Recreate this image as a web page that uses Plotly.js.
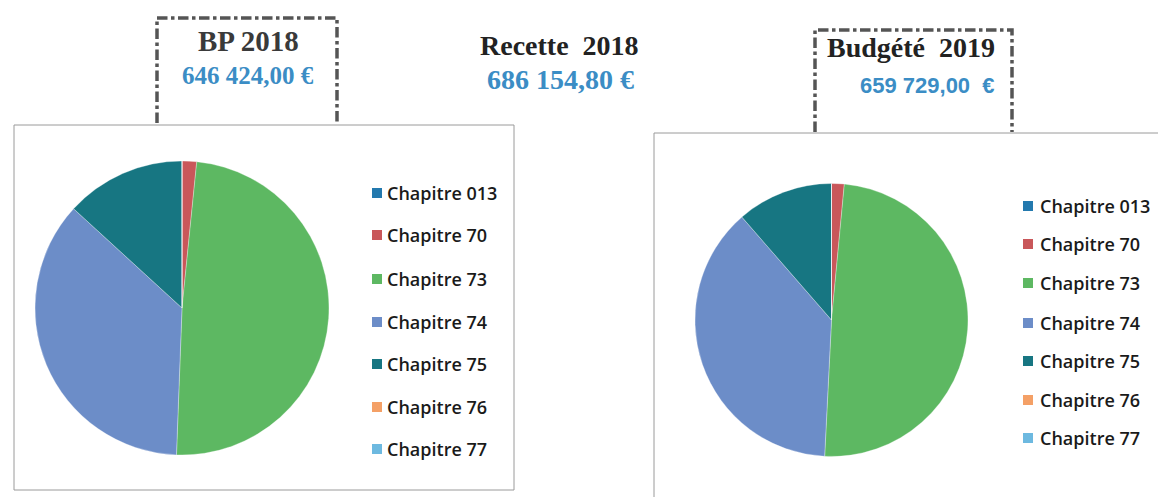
<!DOCTYPE html>
<html>
<head>
<meta charset="utf-8">
<script src="https://cdn.plot.ly/plotly-3.0.1.min.js"></script>
<style>html,body{margin:0;padding:0;background:#fff;}#chart{width:1158px;height:497px;}</style>
</head>
<body>
<div id="chart"></div>
<script>
// ---- data ----
const categories = ["Chapitre 013", "Chapitre 70", "Chapitre 73", "Chapitre 74", "Chapitre 75", "Chapitre 76", "Chapitre 77"];
const bp2018Share = [0, 1.6, 49.0, 36.2, 13.2, 0, 0];
const budget2019Share = [0, 1.5, 49.3, 37.8, 11.4, 0, 0];
const colors = ["#2379AE", "#C9575A", "#5DB862", "#6C8DC8", "#177682", "#F4A066", "#6DB9E0"];
const headTitles = ["BP 2018", "Recette  2018", "Budgété  2019"];
const headAmounts = ["646 424,00 €", "686 154,80 €", "659 729,00  €"];

// ---- layout helpers (pixel -> paper) ----
const W = 1158, H = 497;
const px = x => x / W;
const py = y => 1 - y / H;
const keepSpaces = s => s.replace(/  /g, " &nbsp;");

const pieBase = {
  type: "pie", sort: false, direction: "clockwise", rotation: 0,
  textinfo: "none", hoverinfo: "label+percent", showlegend: false,
  marker: { colors: colors, line: { color: "rgba(255,255,255,0.6)", width: 0.5 } }
};

const traces = [
  Object.assign({}, pieBase, {
    labels: categories, values: bp2018Share, name: "BP 2018",
    domain: { x: [px(35), px(329)], y: [py(455), py(161)] }
  }),
  Object.assign({}, pieBase, {
    labels: categories, values: budget2019Share, name: "Budgété 2019",
    domain: { x: [px(695), px(968)], y: [py(456.5), py(183.5)] }
  })
];

const shapes = [];
const annotations = [];

// chart frames
shapes.push({ type: "rect", xref: "paper", yref: "paper", x0: px(14), x1: px(514), y0: py(490), y1: py(125),
  line: { color: "#9a9a9a", width: 1 } });
shapes.push({ type: "rect", xref: "paper", yref: "paper", x0: px(654), x1: px(1170), y0: py(505), y1: py(133),
  line: { color: "#9a9a9a", width: 1 } });

// dashed header boxes (top + sides)
function dashBox(x0, x1, yTop, yBot) {
  shapes.push({ type: "path", xref: "paper", yref: "paper",
    path: `M ${px(x0)} ${py(yBot)} L ${px(x0)} ${py(yTop)} L ${px(x1)} ${py(yTop)} L ${px(x1)} ${py(yBot)}`,
    line: { color: "#555", width: 3.5, dash: "dashdot" } });
}
dashBox(157, 337, 18, 123);
dashBox(815, 1012, 30, 132);

// header texts
const serifBold = "Liberation Serif, Times New Roman, serif";
const head = [
  { x: 248, y: 41, t: headTitles[0], c: "#3a3a3a", f: serifBold, s: 29 },
  { x: 248, y: 75, t: headAmounts[0], c: "#3B8DC5", f: serifBold, s: 25 },
  { x: 559, y: 45, t: headTitles[1], c: "#222", f: serifBold, s: 28 },
  { x: 560, y: 79, t: headAmounts[1], c: "#3B8DC5", f: serifBold, s: 28 },
  { x: 911, y: 48, t: headTitles[2], c: "#222", f: serifBold, s: 28 },
  { x: 927, y: 85, t: headAmounts[2], c: "#3B8DC5", f: "Liberation Sans, Arial, sans-serif", s: 22 }
];
head.forEach(h => annotations.push({ xref: "paper", yref: "paper", x: px(h.x), y: py(h.y),
  xanchor: "center", yanchor: "middle", showarrow: false,
  text: "<b>" + keepSpaces(h.t) + "</b>", font: { family: h.f, size: h.s, color: h.c } }));

// legends (built from categories and colours)
function legend(sqX, textX, ys) {
  categories.forEach((cat, i) => {
    const y = ys[i];
    shapes.push({ type: "rect", xref: "paper", yref: "paper",
      x0: px(sqX), x1: px(sqX + 10), y0: py(y + 5), y1: py(y - 5),
      fillcolor: colors[i], line: { width: 0 } });
    annotations.push({ xref: "paper", yref: "paper", x: px(textX), y: py(y),
      xanchor: "left", yanchor: "middle", showarrow: false, text: cat,
      font: { family: "Open Sans, sans-serif", size: 18, weight: 600, color: "#1a1a1a" } });
  });
}
legend(372, 385, [193, 235, 279, 322, 364, 407, 449]);
legend(1023, 1038, [206, 244, 283, 323, 361, 400, 438]);

const layout = {
  width: W, height: H, margin: { l: 0, r: 0, t: 0, b: 0 },
  paper_bgcolor: "#fff", plot_bgcolor: "#fff",
  shapes: shapes, annotations: annotations, showlegend: false
};

Plotly.newPlot("chart", traces, layout, { displayModeBar: false, staticPlot: true });
</script>
</body>
</html>
